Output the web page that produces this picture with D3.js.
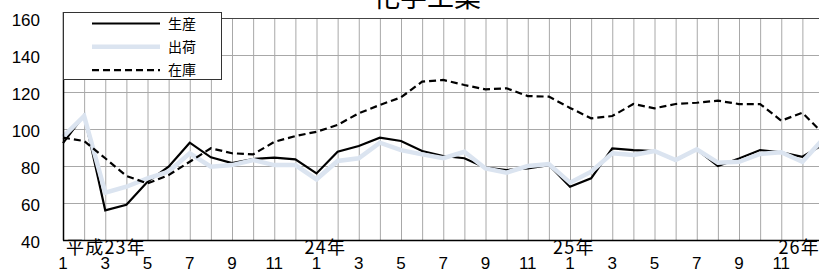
<!DOCTYPE html>
<html>
<head>
<meta charset="utf-8">
<script src="https://cdn.jsdelivr.net/npm/d3@7"></script>
<style>
  body { margin: 0; background: #fff; }
  svg { display: block; }
  .num { font-family: "Liberation Sans", Arial, sans-serif; }
  .jp { font-family: "Noto Sans CJK JP", sans-serif; }
</style>
</head>
<body>
<div id="chart"></div>
<script>
let width = 819
let height = 273

// month of each data point, 平成23年1月 .. 平成26年1月
let months = [1,2,3,4,5,6,7,8,9,10,11,12, 1,2,3,4,5,6,7,8,9,10,11,12, 1,2,3,4,5,6,7,8,9,10,11,12, 1]
let yearLabels = ["平成23年", "24年", "25年", "26年"]
let yearStart = [0, 12, 24, 36]

let production = [92.4,107.5,56,59,71.5,79.6,92.6,84.7,81.6,83.8,84.5,83.6,
  76,87.7,90.8,95.3,93.5,88.1,85.4,84.2,79.1,77.8,78.7,80.5,
  68.8,73.3,89.5,88.6,88.1,82.9,89,80,84.1,88.6,87.4,85,91.7]
let shipments = [95.8,107,65.6,68.8,73.3,77,86.9,79.6,80.5,83.2,80.5,80.5,
  72.8,82.7,84.2,92.6,88.6,86.3,84.2,87.7,78.7,76.4,80,81,
  71,76.9,86.9,86,88.1,83.2,89,81.8,82.3,86.5,87.4,82.3,94.8]
let inventory = [95.3,93.5,84.2,74.6,70.6,75.1,82.3,89.6,86.9,86.3,93,96.2,
  98.5,102.2,108.5,113,117.1,125.6,126.5,123.8,121.4,122,117.8,117.5,
  111.4,105.8,107,113.5,111.2,113.5,114.2,115.3,113.5,113.5,104.5,108.8,97.3]

let seriesNames = ["生産", "出荷", "在庫"]
let yTicks = [40, 60, 80, 100, 120, 140, 160]

let series = [
  {name: seriesNames[0], values: production, color: "#000", w: 2.2, dash: null},
  {name: seriesNames[1], values: shipments, color: "#dbe4f0", w: 4.5, dash: null},
  {name: seriesNames[2], values: inventory, color: "#000", w: 2.2, dash: "7,4"}
]

let plotLeft = 63, plotTop = 18, plotBottom = 240, plotRight = 819

let x = d3.scaleLinear().domain([0, 36]).range([plotLeft, plotLeft + 36 * 21.125])
let y = d3.scaleLinear().domain([40, 160]).range([plotBottom, plotTop])

let svg = d3.select("#chart").append("svg")
  .attr("width", width)
  .attr("height", height)

// title (partly cut at the top)
svg.append("text")
  .attr("class", "jp")
  .attr("x", 427)
  .attr("y", 7)
  .attr("text-anchor", "middle")
  .style("font-size", "27px")
  .text("化学工業")

let grid = svg.append("g")

grid.selectAll("line.v")
  .data(d3.range(1, 37))
  .join("line")
  .attr("class", "v")
  .attr("x1", d => x(d) + 0.5).attr("x2", d => x(d) + 0.5)
  .attr("y1", plotTop).attr("y2", plotBottom)
  .attr("stroke", "#a8a8a8")
  .attr("stroke-width", 1)

grid.selectAll("line.h")
  .data(yTicks.filter(d => d > 40 && d < 160))
  .join("line")
  .attr("class", "h")
  .attr("x1", plotLeft).attr("x2", plotRight)
  .attr("y1", d => Math.round(y(d)) + 0.5).attr("y2", d => Math.round(y(d)) + 0.5)
  .attr("stroke", "#a8a8a8")

// plot border top
svg.append("line")
  .attr("x1", plotLeft).attr("x2", plotRight)
  .attr("y1", plotTop + 0.5).attr("y2", plotTop + 0.5)
  .attr("stroke", "#444")

let line = d3.line()
  .x((d, i) => x(i))
  .y(d => y(d))

svg.append("g")
  .selectAll("path")
  .data(series)
  .join("path")
  .attr("d", d => line(d.values))
  .attr("fill", "none")
  .attr("stroke", d => d.color)
  .attr("stroke-width", d => d.w)
  .attr("stroke-dasharray", d => d.dash)
  .attr("stroke-linejoin", "miter")

// axes
svg.append("line")
  .attr("x1", plotLeft + 0.5).attr("x2", plotLeft + 0.5)
  .attr("y1", plotTop - 6).attr("y2", plotBottom + 0.5)
  .attr("stroke", "#000").attr("stroke-width", 1.5)
svg.append("line")
  .attr("x1", plotLeft).attr("x2", plotRight)
  .attr("y1", plotBottom + 0.5).attr("y2", plotBottom + 0.5)
  .attr("stroke", "#000").attr("stroke-width", 1.5)

svg.append("g")
  .selectAll("text")
  .data(yTicks)
  .join("text")
  .attr("class", "num")
  .attr("x", 40)
  .attr("y", d => y(d) + 8)
  .attr("text-anchor", "end")
  .style("font-size", "17px")
  .text(d => d)

svg.append("g")
  .selectAll("text")
  .data(months.map((m, i) => ({m, i})).filter(d => d.m % 2 == 1 && d.i < 36))
  .join("text")
  .attr("class", "num")
  .attr("x", d => x(d.i))
  .attr("y", 269)
  .attr("text-anchor", "middle")
  .style("font-size", "17px")
  .text(d => d.m)

let yearAnchor = [
  {x: x(yearStart[0]) + 3, anchor: "start"},
  {x: x(yearStart[1]) - 12, anchor: "start"},
  {x: x(yearStart[2]) - 17, anchor: "start"},
  {x: plotRight + 1, anchor: "end"}
]
svg.append("g")
  .selectAll("text")
  .data(yearLabels)
  .join("text")
  .attr("class", "jp")
  .attr("x", (d, i) => yearAnchor[i].x)
  .attr("y", 254)
  .attr("text-anchor", (d, i) => yearAnchor[i].anchor)
  .style("font-size", "18px")
  .style("letter-spacing", "1.2px")
  .text(d => d)

// legend
let legend = svg.append("g")
legend.append("rect")
  .attr("x", plotLeft + 0.5).attr("y", 12.5)
  .attr("width", 158).attr("height", 67)
  .attr("fill", "#fff")
  .attr("stroke", "#333")

let items = legend.selectAll("g")
  .data(series)
  .join("g")
  .attr("transform", (d, i) => `translate(0,${23.5 + i * 23.3})`)
items.append("line")
  .attr("x1", 92).attr("x2", 160)
  .attr("stroke", d => d.color)
  .attr("stroke-width", d => d.w)
  .attr("stroke-dasharray", d => d.dash)
items.append("text")
  .attr("class", "jp")
  .attr("x", 168)
  .attr("y", 5)
  .style("font-size", "14px")
  .text(d => d.name)
</script>
</body>
</html>
